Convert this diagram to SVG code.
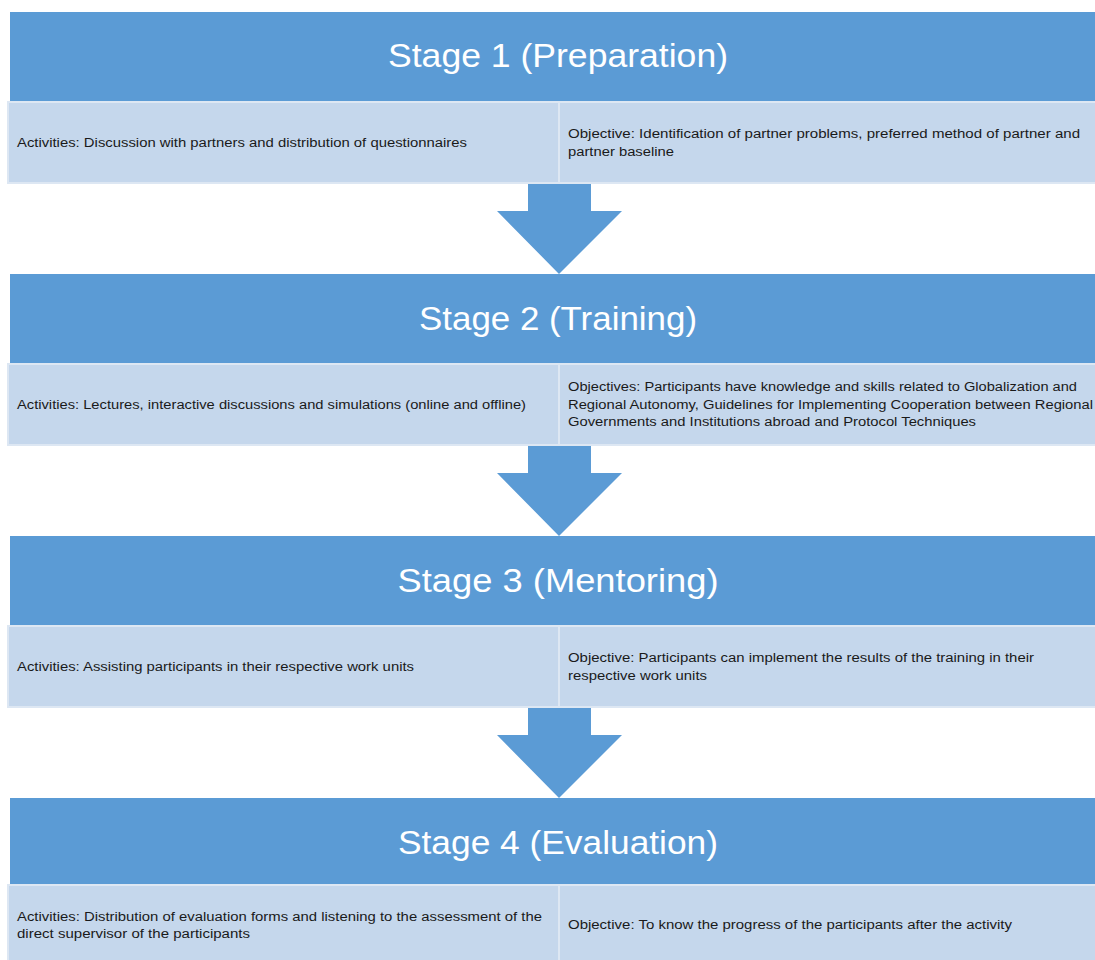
<svg xmlns="http://www.w3.org/2000/svg" width="1095" height="960" viewBox="0 0 1095 960">
<style>
.hdr{fill:#5B9BD5}
.cell{fill:#C5D7EC;stroke:#DDE7F3;stroke-width:2}
.arrow{fill:#5B9BD5}
.title{font-family:"Liberation Sans",Arial,sans-serif;font-size:34px;fill:#FFFFFF;text-anchor:middle}
.t{font-family:"Liberation Sans",Arial,sans-serif;font-size:12.5px;fill:#1a1a1a}
</style>
<defs>
<polygon id="arr" points="528,0 591,0 591,27 622,27 559,90 497,27 528,27"/>
</defs>
<rect width="1095" height="960" fill="#FFFFFF"/>
<g id="connectors">
<use href="#arr" class="arrow" y="184"/>
<use href="#arr" class="arrow" y="446"/>
<use href="#arr" class="arrow" y="708"/>
</g>
<g id="stage1">
<rect class="hdr" x="10" y="12" width="1085" height="90"/>
<text class="title" x="558" y="67" textLength="340" lengthAdjust="spacingAndGlyphs">Stage 1 (Preparation)</text>
<rect class="cell" x="8" y="102" width="551" height="81"/>
<rect class="cell" x="559" y="102" width="538" height="81"/>
<text class="t" x="17" y="147" textLength="450" lengthAdjust="spacingAndGlyphs">Activities: Discussion with partners and distribution of questionnaires</text>
<text class="t" x="568" y="138" textLength="512" lengthAdjust="spacingAndGlyphs">Objective: Identification of partner problems, preferred method of partner and</text>
<text class="t" x="568" y="156" textLength="106" lengthAdjust="spacingAndGlyphs">partner baseline</text>
</g>
<g id="stage2">
<rect class="hdr" x="10" y="274" width="1085" height="90"/>
<text class="title" x="558" y="330" textLength="278" lengthAdjust="spacingAndGlyphs">Stage 2 (Training)</text>
<rect class="cell" x="8" y="364" width="551" height="81"/>
<rect class="cell" x="559" y="364" width="538" height="81"/>
<text class="t" x="17" y="409" textLength="509" lengthAdjust="spacingAndGlyphs">Activities: Lectures, interactive discussions and simulations (online and offline)</text>
<text class="t" x="568" y="391" textLength="509" lengthAdjust="spacingAndGlyphs">Objectives: Participants have knowledge and skills related to Globalization and</text>
<text class="t" x="568" y="409" textLength="525" lengthAdjust="spacingAndGlyphs">Regional Autonomy, Guidelines for Implementing Cooperation between Regional</text>
<text class="t" x="568" y="426" textLength="408" lengthAdjust="spacingAndGlyphs">Governments and Institutions abroad and Protocol Techniques</text>
</g>
<g id="stage3">
<rect class="hdr" x="10" y="536" width="1085" height="90"/>
<text class="title" x="558" y="592" textLength="321" lengthAdjust="spacingAndGlyphs">Stage 3 (Mentoring)</text>
<rect class="cell" x="8" y="626" width="551" height="81"/>
<rect class="cell" x="559" y="626" width="538" height="81"/>
<text class="t" x="17" y="671" textLength="397" lengthAdjust="spacingAndGlyphs">Activities: Assisting participants in their respective work units</text>
<text class="t" x="568" y="662" textLength="466" lengthAdjust="spacingAndGlyphs">Objective: Participants can implement the results of the training in their</text>
<text class="t" x="568" y="680" textLength="139" lengthAdjust="spacingAndGlyphs">respective work units</text>
</g>
<g id="stage4">
<rect class="hdr" x="10" y="798" width="1085" height="87"/>
<text class="title" x="558" y="854" textLength="320" lengthAdjust="spacingAndGlyphs">Stage 4 (Evaluation)</text>
<rect class="cell" x="8" y="885" width="551" height="80"/>
<rect class="cell" x="559" y="885" width="538" height="80"/>
<text class="t" x="17" y="921" textLength="525" lengthAdjust="spacingAndGlyphs">Activities: Distribution of evaluation forms and listening to the assessment of the</text>
<text class="t" x="17" y="938" textLength="233" lengthAdjust="spacingAndGlyphs">direct supervisor of the participants</text>
<text class="t" x="568" y="929" textLength="444" lengthAdjust="spacingAndGlyphs">Objective: To know the progress of the participants after the activity</text>
</g>
</svg>
